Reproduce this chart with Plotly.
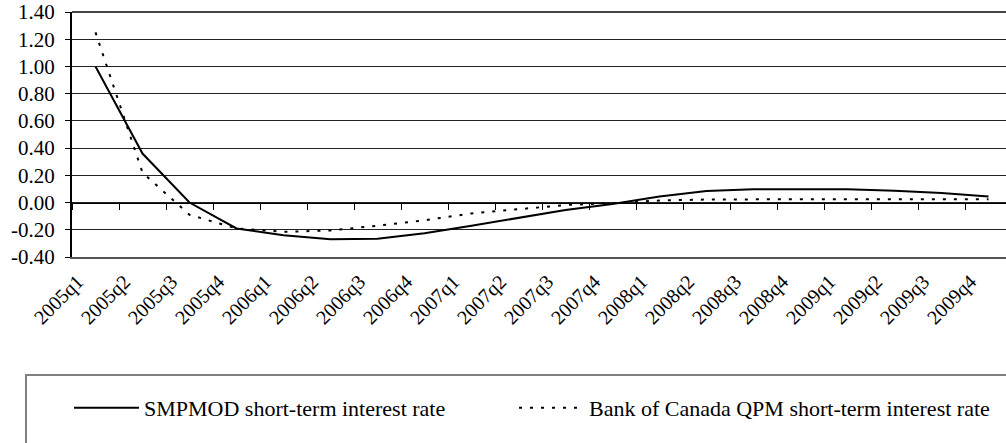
import plotly.graph_objects as go

quarters = ["2005q1", "2005q2", "2005q3", "2005q4",
            "2006q1", "2006q2", "2006q3", "2006q4",
            "2007q1", "2007q2", "2007q3", "2007q4",
            "2008q1", "2008q2", "2008q3", "2008q4",
            "2009q1", "2009q2", "2009q3", "2009q4"]

smpmod = [1.00, 0.36, 0.00, -0.19, -0.24, -0.27, -0.265, -0.225,
          -0.17, -0.11, -0.055, -0.01, 0.045, 0.085, 0.097, 0.097,
          0.097, 0.086, 0.07, 0.045]

qpm = [1.25, 0.22, -0.09, -0.19, -0.215, -0.205, -0.17, -0.13,
       -0.08, -0.047, -0.018, -0.004, 0.015, 0.022, 0.025, 0.025,
       0.025, 0.025, 0.025, 0.025]

y_tickvals = [-0.4, -0.2, 0.0, 0.2, 0.4, 0.6, 0.8, 1.0, 1.2, 1.4]
y_ticktext = ["-0.40", "-0.20", "0.00", "0.20", "0.40", "0.60", "0.80", "1.00", "1.20", "1.40"]

series_names = ["SMPMOD short-term interest rate",
                "Bank of Canada QPM short-term interest rate"]

W, H = 1006, 443
ML, MR, MT, MB = 72, 0, 12, 186
PW = W - ML - MR
PH = H - MT - MB
CAT_PX = 47.0
YMIN, YMAX = -0.4, 1.4

def px_x(p):
    return (p - ML) / PW

def px_y(p):
    return (H - MB - p) / PH

FONT = "Liberation Serif"

fig = go.Figure()
fig.add_trace(go.Scatter(x=quarters, y=smpmod, mode="lines", name=series_names[0],
                         line=dict(color="black", width=2), legend="legend"))
fig.add_trace(go.Scatter(x=quarters, y=qpm, mode="lines", name=series_names[1],
                         line=dict(color="black", width=2, dash="3px,8px"), legend="legend2"))
# helper trace for the category axis drawn at y = 0
fig.add_trace(go.Scatter(x=quarters, y=smpmod, mode="lines", xaxis="x2", yaxis="y",
                         line=dict(color="rgba(0,0,0,0)", width=0), showlegend=False,
                         hoverinfo="skip"))

xr = [-0.5, -0.5 + PW / CAT_PX]

fig.update_layout(
    width=W, height=H,
    margin=dict(l=ML, r=MR, t=MT, b=MB, pad=0),
    paper_bgcolor="white", plot_bgcolor="white",
    font=dict(family=FONT, size=20, color="black"),
    showlegend=True,
    xaxis=dict(type="category", categoryorder="array", categoryarray=quarters,
               range=xr, showgrid=False, zeroline=False,
               showline=True, linecolor="#555555", linewidth=2,
               ticks="", tickangle=-45, tickfont=dict(family=FONT, size=20),
               ticklabelshift=-18, ticklabelstandoff=3),
    xaxis2=dict(type="category", categoryorder="array", categoryarray=quarters,
                overlaying="x", anchor="free", position=(0 - YMIN) / (YMAX - YMIN),
                side="bottom", range=xr, matches="x",
                showgrid=False, zeroline=False, showline=True, linecolor="black",
                linewidth=1, ticks="outside", ticklen=6, tickcolor="black",
                tickson="boundaries", showticklabels=False),
    yaxis=dict(range=[YMIN, YMAX], tickmode="array", tickvals=y_tickvals,
               ticktext=y_ticktext, showgrid=True, gridcolor="#222222", gridwidth=1,
               zeroline=False, showline=True, linecolor="black", linewidth=2,
               ticks="outside", ticklen=5, tickcolor="black",
               tickfont=dict(family=FONT, size=21), ticklabelstandoff=6),
    legend=dict(x=px_x(69), y=px_y(408), xanchor="left", yanchor="middle",
                orientation="h", bgcolor="rgba(0,0,0,0)", borderwidth=0,
                itemwidth=65,
                font=dict(family=FONT, size=22, color="black")),
    legend2=dict(x=px_x(514), y=px_y(408), xanchor="left", yanchor="middle",
                 orientation="h", bgcolor="rgba(0,0,0,0)", borderwidth=0,
                 itemwidth=65,
                 font=dict(family=FONT, size=22, color="black")),
    shapes=[
        dict(type="rect", xref="paper", yref="paper",
             x0=px_x(26), x1=px_x(1012), y0=px_y(375), y1=px_y(450),
             line=dict(color="#808080", width=2), fillcolor="white", layer="below"),
        dict(type="line", xref="paper", yref="paper", x0=0, x1=1, y0=1, y1=1,
             line=dict(color="#444444", width=2)),
    ],
)

fig.write_html("out.html", post_script="document.body.style.margin='0';",
               config={"displayModeBar": False})
